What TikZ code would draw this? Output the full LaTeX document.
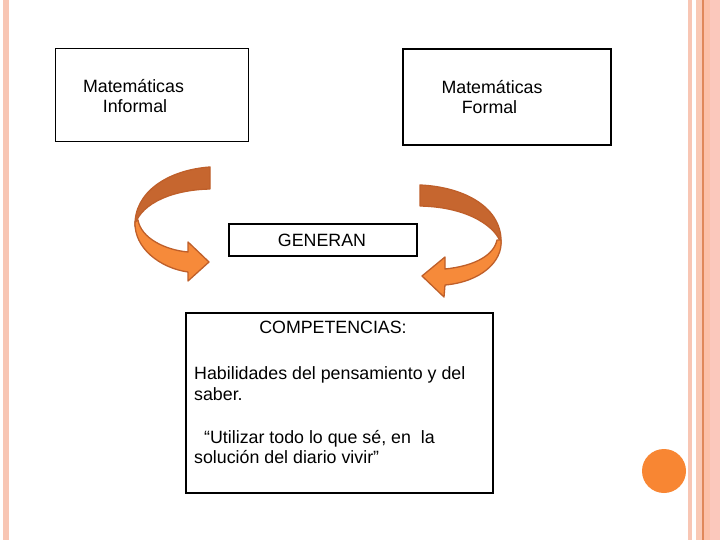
\documentclass[tikz,border=0pt]{standalone}
\usepackage{fontspec}
\setmainfont{Liberation Sans}
\definecolor{stripe}{HTML}{F8C6B4}
\definecolor{stripeb}{HTML}{F9C9B5}
\definecolor{stripec}{HTML}{FCC0A8}
\definecolor{striped}{HTML}{FBC8BC}
\definecolor{stripeline}{HTML}{E0885A}
\definecolor{lightor}{HTML}{F68A3A}
\definecolor{darkor}{HTML}{C6662F}
\definecolor{edgeor}{HTML}{BF5F2A}
\definecolor{dotor}{HTML}{F88633}
\tikzset{
  box/.style={draw=black, line width=1.8pt, inner sep=0pt},
  txt/.style={inner sep=0pt, font=\fontsize{17.8}{20}\selectfont},
  arrowlight/.style={fill=lightor, draw=edgeor, line width=1.3pt, line join=round},
  arrowdark/.style={fill=darkor, draw=edgeor, line width=1.3pt, line join=round}
}
\begin{document}
\begin{tikzpicture}[x=1pt,y=-1pt]
\useasboundingbox (0,0) rectangle (720,540);
\fill[white] (0,0) rectangle (720,540);
% decorative stripes
\fill[stripe] (3,0) rectangle (9,540);
\fill[stripe] (688,0) rectangle (692,540);
\fill[stripeb] (696,0) rectangle (702,540);
\fill[stripec] (703.5,0) rectangle (710,540);
\fill[striped] (710,0) rectangle (720,540);
\fill[stripeline] (702,0) rectangle (703.5,540);
\fill[dotor] (664,471) circle (22);
% boxes
\node[box, minimum width=193pt, minimum height=93pt] (inf) at (152,95) {};
\node[box, minimum width=208pt, minimum height=96pt] (for) at (507,97) {};
\node[box, minimum width=188pt, minimum height=32pt] (gen) at (323,240) {};
\node[box, minimum width=307pt, minimum height=180pt] (comp) at (339.5,403) {};
% texts
\node[txt, anchor=base] (inf1) at (133.5,93) {Matemáticas};
\node[txt, anchor=base] (inf2) at (135,113) {Informal};
\node[txt, anchor=base] (for1) at (492,93.5) {Matemáticas};
\node[txt, anchor=base] (for2) at (489.5,114) {Formal};
\node[txt, anchor=base] (gent) at (322,246) {GENERAN};
\node[txt, anchor=base] (comp1) at (333,333) {COMPETENCIAS:};
\node[txt, anchor=base west] (comp2) at (194,379) {Habilidades del pensamiento y del};
\node[txt, anchor=base west] (comp3) at (194,400) {saber.};
\node[txt, anchor=base west] (comp4) at (204,443) {“Utilizar todo lo que sé, en\ \ la};
\node[txt, anchor=base west] (comp5) at (194,463.5) {solución del diario vivir”};
% left curved arrow
\path[arrowdark] (210,167) .. controls (168,170) and (134,192) .. (135,226)
  .. controls (138,208) and (165,190) .. (210,189) -- cycle;
\path[arrowlight] (135,222) .. controls (134,248) and (160,268) .. (188,272)
  -- (188,281) -- (209,262) -- (188,242) -- (188,252)
  .. controls (165,250) and (141,238) .. (138,220) -- cycle;
% right curved arrow
\path[arrowdark] (420,185) .. controls (465,187) and (503,208) .. (501,244)
  .. controls (497,228) and (470,207) .. (420,206) -- cycle;
\path[arrowlight] (501,240) .. controls (503,262) and (480,282) .. (445,285)
  -- (444,297) -- (422,276) -- (445,257) -- (445,269)
  .. controls (475,266) and (494,255) .. (497,240) -- cycle;
\end{tikzpicture}
\end{document}
